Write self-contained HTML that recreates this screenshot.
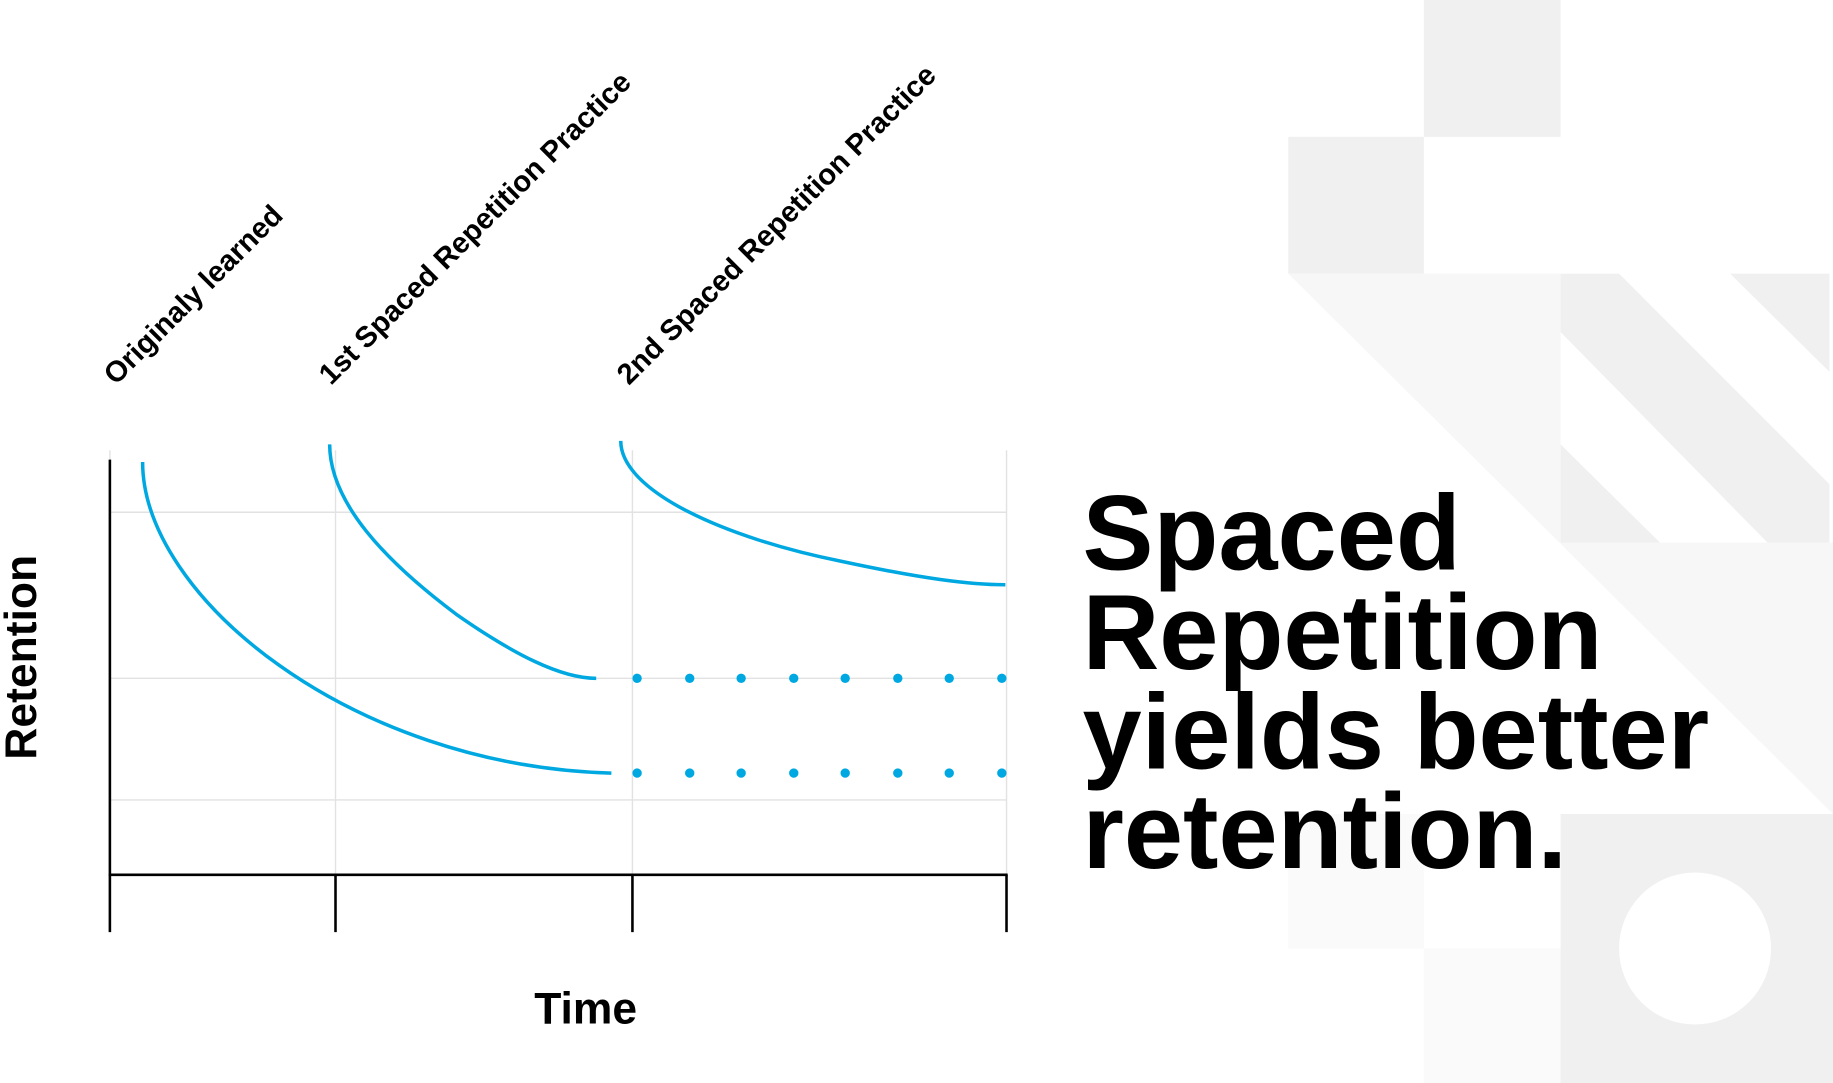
<!DOCTYPE html>
<html><head><meta charset="utf-8"><style>
html,body{margin:0;padding:0;background:#fff;width:1833px;height:1083px;overflow:hidden}
svg{display:block}
text{font-family:"Liberation Sans",sans-serif;font-weight:bold;fill:#000}
</style></head><body>
<svg width="1833" height="1083" viewBox="0 0 1568 926" preserveAspectRatio="none" xmlns="http://www.w3.org/2000/svg">
<!-- background shapes -->
<rect x="1218" y="0" width="117" height="117" fill="#f0f0f0"/>
<rect x="1102" y="117" width="116" height="117" fill="#f0f0f0"/>
<polygon points="1102,234 1335,234 1335,464 1568,464 1568,696" fill="#f7f7f7"/>
<polygon points="1335,234 1385,234 1565,414 1565,464 1512,464 1335,284" fill="#f0f0f0"/>
<polygon points="1480,234 1565,234 1565,318" fill="#f0f0f0"/>
<polygon points="1335,380 1420,464 1335,464" fill="#f0f0f0"/>
<rect x="1102" y="696" width="116" height="115" fill="#fafafa"/>
<rect x="1218" y="811" width="117" height="115" fill="#fafafa"/>
<rect x="1335" y="696" width="233" height="230" fill="#f0f0f0"/>
<circle cx="1450" cy="811" r="65" fill="#fff"/>

<!-- grid -->
<g stroke="#e2e2e2" stroke-width="1.2" fill="none">
<line x1="94" y1="438" x2="861" y2="438"/>
<line x1="94" y1="580" x2="861" y2="580"/>
<line x1="94" y1="684" x2="861" y2="684"/>
<line x1="287" y1="385" x2="287" y2="748"/>
<line x1="541" y1="385" x2="541" y2="748"/>
<line x1="861" y1="385" x2="861" y2="748"/>
<line x1="94" y1="385" x2="94" y2="393"/>
</g>
<!-- axes -->
<g stroke="#000" stroke-width="2.2" fill="none">
<line x1="94" y1="393" x2="94" y2="797"/>
<line x1="93" y1="748" x2="862" y2="748"/>
<line x1="287" y1="748" x2="287" y2="797"/>
<line x1="541" y1="748" x2="541" y2="797"/>
<line x1="861" y1="748" x2="861" y2="797"/>
</g>
<!-- curves -->
<g stroke="#00a8e1" stroke-width="3" fill="none">
<path d="M122,395 C122,510 300,655 523,661"/>
<path d="M282,380 C282,430 330,480 390,525 C440,560 480,580 510,580"/>
<path d="M531,377 C531,420 620,460 720,480 C790,495 830,500 860,500"/>
</g>
<g fill="#00a8e1">
<circle cx="545" cy="580" r="4"/><circle cx="590" cy="580" r="4"/><circle cx="634" cy="580" r="4"/><circle cx="679" cy="580" r="4"/><circle cx="723" cy="580" r="4"/><circle cx="768" cy="580" r="4"/><circle cx="812" cy="580" r="4"/><circle cx="857" cy="580" r="4"/>
<circle cx="545" cy="661" r="4"/><circle cx="590" cy="661" r="4"/><circle cx="634" cy="661" r="4"/><circle cx="679" cy="661" r="4"/><circle cx="723" cy="661" r="4"/><circle cx="768" cy="661" r="4"/><circle cx="812" cy="661" r="4"/><circle cx="857" cy="661" r="4"/>
</g>
<!-- labels -->
<text x="0" y="0" font-size="25" transform="translate(99,330) rotate(-45)">Originaly learned</text>
<text x="0" y="0" font-size="25" transform="translate(283,330) rotate(-45)">1st Spaced Repetition Practice</text>
<text x="0" y="0" font-size="25" transform="translate(538,330) rotate(-45)">2nd Spaced Repetition Practice</text>
<text x="0" y="0" font-size="38" text-anchor="middle" transform="translate(31,562) rotate(-90)">Retention</text>
<text x="501" y="875" font-size="38" text-anchor="middle">Time</text>
<g font-size="91">
<text x="926" y="487">Spaced</text>
<text x="926" y="572">Repetition</text>
<text x="926" y="657">yields better</text>
<text x="926" y="742">retention.</text>
</g>
</svg>
</body></html>
